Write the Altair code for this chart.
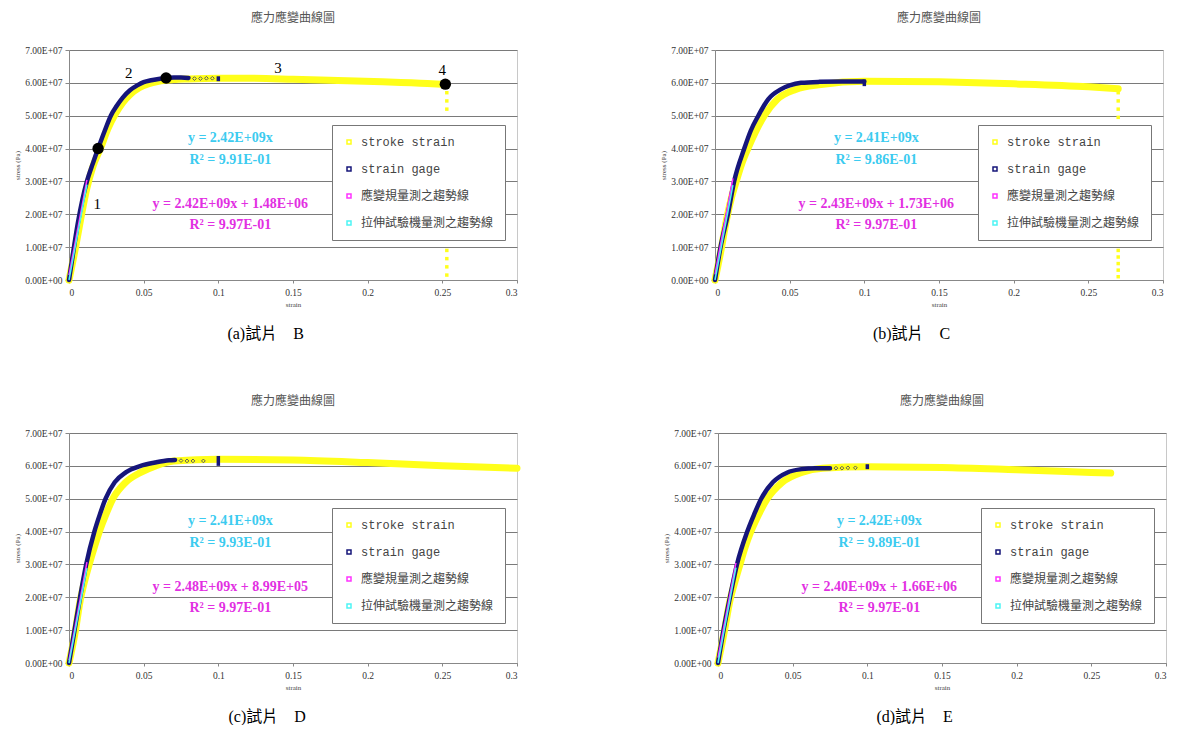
import altair as alt
import pandas as pd

SERIES = ["stroke strain", "strain gage", "應變規量測之趨勢線", "拉伸試驗機量測之趨勢線"]
SERIES_COLORS = ["#FFFF1A", "#16167A", "#FF33FF", "#4DF5F5"]
CHART_TITLE = "應力應變曲線圖"
X_TICKS = [0, 0.05, 0.1, 0.15, 0.2, 0.25, 0.3]
Y_TICKS = [0, 1e7, 2e7, 3e7, 4e7, 5e7, 6e7, 7e7]
CAPTIONS = ["(a)試片　B", "(b)試片　C", "(c)試片　D", "(d)試片　E"]

# ---- specimen B ----
B_STROKE_X = [0, 0.004, 0.008, 0.012, 0.016, 0.021, 0.026, 0.031, 0.036, 0.041, 0.047, 0.053, 0.06, 0.07, 0.08, 0.1, 0.12, 0.15, 0.18, 0.21, 0.24, 0.253]
B_STROKE_Y = [0, 0.9e7, 1.9e7, 2.8e7, 3.45e7, 4.0e7, 4.6e7, 5.05e7, 5.4e7, 5.65e7, 5.85e7, 5.97e7, 6.05e7, 6.1e7, 6.12e7, 6.14e7, 6.14e7, 6.11e7, 6.07e7, 6.03e7, 5.98e7, 5.95e7]
B_DROP_X = [0.253, 0.253, 0.253, 0.253, 0.253, 0.253, 0.253]
B_DROP_Y = [5.7e7, 5.45e7, 5.2e7, 0.9e7, 0.65e7, 0.4e7, 0.15e7]
B_GAGE_X = [0, 0.003, 0.006, 0.009, 0.012, 0.016, 0.0195, 0.024, 0.028, 0.032, 0.036, 0.041, 0.046, 0.05, 0.055, 0.06, 0.065, 0.07, 0.075, 0.08]
B_GAGE_Y = [0, 0.9e7, 1.75e7, 2.45e7, 3.0e7, 3.55e7, 4.0e7, 4.55e7, 5.0e7, 5.3e7, 5.55e7, 5.78e7, 5.93e7, 6.02e7, 6.08e7, 6.12e7, 6.15e7, 6.16e7, 6.16e7, 6.15e7]
B_SPARSE_X = [0.084, 0.088, 0.092, 0.096]
B_SPARSE_Y = [6.13e7, 6.13e7, 6.14e7, 6.14e7]
B_BLIP = [0.1, 6.05e7, 6.2e7]
B_TREND_X = [0, 0.012]
B_TREND_MAG_Y = [1.48e6, 3.05e7]
B_TREND_CYAN_Y = [0, 2.9e7]
B_EQ = ["y = 2.42E+09x", "R² = 9.91E-01", "y = 2.42E+09x + 1.48E+06", "R² = 9.97E-01"]
B_KEY_X = [0.0195, 0.065, 0.252]
B_KEY_Y = [4.0e7, 6.15e7, 5.96e7]
B_NUM_TEXT = ["1", "2", "3", "4"]
B_NUM_X = [0.019, 0.040, 0.140, 0.250]
B_NUM_Y = [2.3e7, 6.3e7, 6.45e7, 6.38e7]

# ---- specimen C ----
C_STROKE_X = [0, 0.004, 0.008, 0.011, 0.0142, 0.018, 0.022, 0.027, 0.033, 0.0417, 0.054, 0.071, 0.1, 0.15, 0.2, 0.25, 0.27]
C_STROKE_Y = [0, 0.9e7, 1.9e7, 2.5e7, 3.0e7, 3.55e7, 4.0e7, 4.5e7, 5.0e7, 5.5e7, 5.8e7, 5.95e7, 6.05e7, 6.03e7, 5.97e7, 5.88e7, 5.82e7]
C_DROP_X = [0.27, 0.27, 0.27, 0.27, 0.27, 0.27, 0.27, 0.27, 0.27]
C_DROP_Y = [5.7e7, 5.45e7, 5.2e7, 4.95e7, 0.9e7, 0.7e7, 0.5e7, 0.3e7, 0.1e7]
C_GAGE_X = [0, 0.0037, 0.0086, 0.0128, 0.0196, 0.024, 0.029, 0.0356, 0.044, 0.05, 0.0576, 0.07, 0.085, 0.1]
C_GAGE_Y = [0, 1e7, 2e7, 3e7, 4e7, 4.55e7, 5e7, 5.5e7, 5.8e7, 5.92e7, 6.0e7, 6.03e7, 6.04e7, 6.04e7]
C_SPARSE_X = []
C_SPARSE_Y = []
C_BLIP = [0.1, 5.9e7, 6.1e7]
C_TREND_X = [0, 0.012]
C_TREND_MAG_Y = [1.73e6, 3.09e7]
C_TREND_CYAN_Y = [0, 2.89e7]
C_EQ = ["y = 2.41E+09x", "R² = 9.86E-01", "y = 2.43E+09x + 1.73E+06", "R² = 9.97E-01"]

# ---- specimen D ----
D_STROKE_X = [0, 0.004, 0.0075, 0.0105, 0.0135, 0.0168, 0.0203, 0.0245, 0.0294, 0.038, 0.048, 0.058, 0.07, 0.1, 0.15, 0.2, 0.25, 0.3]
D_STROKE_Y = [0, 0.9e7, 1.9e7, 2.5e7, 3e7, 3.5e7, 4e7, 4.5e7, 5e7, 5.5e7, 5.8e7, 6.0e7, 6.15e7, 6.2e7, 6.18e7, 6.1e7, 6.0e7, 5.93e7]
D_DROP_X = []
D_DROP_Y = []
D_GAGE_X = [0, 0.0037, 0.0074, 0.0115, 0.017, 0.0205, 0.0245, 0.0306, 0.038, 0.048, 0.0576, 0.067, 0.071]
D_GAGE_Y = [0, 1e7, 2e7, 3e7, 4e7, 4.5e7, 5e7, 5.5e7, 5.8e7, 6.0e7, 6.1e7, 6.17e7, 6.18e7]
D_SPARSE_X = [0.075, 0.079, 0.083, 0.09]
D_SPARSE_Y = [6.16e7, 6.15e7, 6.15e7, 6.15e7]
D_BLIP = [0.1, 6.0e7, 6.3e7]
D_TREND_X = [0, 0.012]
D_TREND_MAG_Y = [0.9e6, 3.07e7]
D_TREND_CYAN_Y = [0, 2.89e7]
D_EQ = ["y = 2.41E+09x", "R² = 9.93E-01", "y = 2.48E+09x + 8.99E+05", "R² = 9.97E-01"]

# ---- specimen E ----
E_STROKE_X = [0, 0.004, 0.008, 0.0115, 0.0147, 0.018, 0.022, 0.027, 0.033, 0.043, 0.056, 0.07, 0.1, 0.15, 0.2, 0.25, 0.263]
E_STROKE_Y = [0, 0.9e7, 1.9e7, 2.5e7, 3e7, 3.5e7, 4e7, 4.5e7, 5e7, 5.5e7, 5.8e7, 5.93e7, 5.97e7, 5.95e7, 5.88e7, 5.8e7, 5.78e7]
E_DROP_X = []
E_DROP_Y = []
E_GAGE_X = [0, 0.0037, 0.008, 0.0127, 0.0196, 0.024, 0.0289, 0.0367, 0.0465, 0.056, 0.065, 0.075]
E_GAGE_Y = [0, 1e7, 2e7, 3e7, 4e7, 4.5e7, 5e7, 5.5e7, 5.8e7, 5.9e7, 5.93e7, 5.93e7]
E_SPARSE_X = [0.079, 0.083, 0.087, 0.092]
E_SPARSE_Y = [5.93e7, 5.93e7, 5.94e7, 5.94e7]
E_BLIP = [0.1, 5.9e7, 6.05e7]
E_TREND_X = [0, 0.012]
E_TREND_MAG_Y = [1.66e6, 3.05e7]
E_TREND_CYAN_Y = [0, 2.9e7]
E_EQ = ["y = 2.42E+09x", "R² = 9.89E-01", "y = 2.40E+09x + 1.66E+06", "R² = 9.97E-01"]

EQ_X = 0.108
EQ_Y = [4.31e7, 3.66e7, 2.31e7, 1.66e7]

W, H = 448, 230
SERIF = "Liberation Serif"
CJK = "Noto Sans CJK TC"

x_axis = alt.Axis(title="strain", values=X_TICKS, format=".2~f", grid=False,
                  labelFont=SERIF, labelFontSize=9.5, labelColor="#333",
                  titleFont=SERIF, titleFontSize=7, titleFontWeight="normal", titleColor="#444",
                  titlePadding=4, domainColor="#888", tickColor="#888", tickSize=3, labelPadding=4)
y_axis = alt.Axis(title="stress (Pa)", values=Y_TICKS,
                  labelExpr="datum.value == 0 ? '0.00E+00' : format(datum.value / 1e7, '.2f') + 'E+07'",
                  grid=True, gridColor="#7a7a7a", gridWidth=1,
                  labelFont=SERIF, labelFontSize=9.5, labelColor="#333",
                  titleFont=SERIF, titleFontSize=7, titleFontWeight="normal", titleColor="#444",
                  titlePadding=4, domainColor="#888", tickColor="#888", tickSize=4, labelPadding=3)
xs = alt.Scale(domain=[0, 0.3], nice=False)
ys = alt.Scale(domain=[0, 7e7], nice=False)

legend = alt.Legend(title=None, orient="none", legendX=263, legendY=75, direction="vertical",
                    fillColor="white", strokeColor="#777", padding=11, rowPadding=15,
                    symbolType="square", symbolSize=16, symbolStrokeWidth=1.5,
                    labelFont=f"Liberation Mono, {CJK}", labelFontSize=12, labelColor="#444",
                    labelOffset=6, labelLimit=400)
color_enc = alt.Color("series:N", scale=alt.Scale(domain=SERIES, range=SERIES_COLORS), legend=legend)


def panel(sx, sy, dx, dy, gx, gy, spx, spy, blip, tx, tmag, tcyan, eq, caption,
          kx=None, ky=None, nt=None, nx=None, ny=None):
    stroke = pd.DataFrame({"strain": sx, "stress": sy, "series": SERIES[0]})
    gage = pd.DataFrame({"strain": gx, "stress": gy, "series": SERIES[1]})
    trend = pd.concat([
        pd.DataFrame({"strain": tx, "stress": tmag, "series": SERIES[2]}),
        pd.DataFrame({"strain": tx, "stress": tcyan, "series": SERIES[3]}),
    ])
    enc = dict(x=alt.X("strain:Q", scale=xs, axis=x_axis), y=alt.Y("stress:Q", scale=ys, axis=y_axis))
    layers = [
        alt.Chart(stroke).mark_line(strokeWidth=7, strokeCap="round", strokeJoin="round",
                                    interpolate="monotone").encode(color=color_enc, **enc),
    ]
    if dx:
        drop = pd.DataFrame({"strain": dx, "stress": dy})
        layers.append(alt.Chart(drop).mark_square(size=12, color=SERIES_COLORS[0], opacity=1).encode(**enc))
    layers.append(alt.Chart(gage).mark_line(strokeWidth=4.5, strokeCap="round", strokeJoin="round",
                                            interpolate="monotone").encode(color=color_enc, **enc))
    if spx:
        sp = pd.DataFrame({"strain": spx, "stress": spy})
        layers.append(alt.Chart(sp).mark_point(shape="diamond", size=14, color=SERIES_COLORS[1], strokeWidth=1).encode(**enc))
    bl = pd.DataFrame({"strain": [blip[0]], "stress": [blip[1]], "stress2": [blip[2]]})
    layers.append(alt.Chart(bl).mark_rule(color=SERIES_COLORS[1], strokeWidth=3.5).encode(
        x=alt.X("strain:Q", scale=xs, axis=x_axis), y=alt.Y("stress:Q", scale=ys, axis=y_axis), y2="stress2:Q"))
    layers.append(alt.Chart(trend).mark_line(strokeWidth=1.5).encode(color=color_enc, **enc))
    if kx:
        kd = pd.DataFrame({"strain": kx, "stress": ky})
        layers.append(alt.Chart(kd).mark_circle(size=130, color="black", opacity=1).encode(**enc))
        nd = pd.DataFrame({"strain": nx, "stress": ny, "label": nt})
        layers.append(alt.Chart(nd).mark_text(font=SERIF, fontSize=15, color="black").encode(text="label:N", **enc))
    ed = pd.DataFrame({"strain": [EQ_X] * 4, "stress": EQ_Y, "label": eq,
                       "kind": ["c", "c", "m", "m"]})
    layers.append(alt.Chart(ed).transform_filter("datum.kind == 'c'").mark_text(
        font=SERIF, fontSize=14, fontWeight="bold", color="#3CCBF0").encode(text="label:N", **enc))
    layers.append(alt.Chart(ed).transform_filter("datum.kind == 'm'").mark_text(
        font=SERIF, fontSize=14, fontWeight="bold", color="#E22FE2").encode(text="label:N", **enc))

    inner = alt.layer(*layers).properties(
        width=W, height=H,
        title=alt.TitleParams(CHART_TITLE, font=CJK, fontSize=12, fontWeight="normal", color="#555",
                              anchor="middle", offset=20),
    )
    return alt.vconcat(inner, title=alt.TitleParams(caption, orient="bottom", font=f"{SERIF}, {CJK}",
                                                     fontSize=16, fontWeight="normal", color="black",
                                                     anchor="middle", offset=18)
                       ).resolve_scale(color="independent")


pa = panel(B_STROKE_X, B_STROKE_Y, B_DROP_X, B_DROP_Y, B_GAGE_X, B_GAGE_Y, B_SPARSE_X, B_SPARSE_Y, B_BLIP,
           B_TREND_X, B_TREND_MAG_Y, B_TREND_CYAN_Y, B_EQ, CAPTIONS[0],
           B_KEY_X, B_KEY_Y, B_NUM_TEXT, B_NUM_X, B_NUM_Y)
pb = panel(C_STROKE_X, C_STROKE_Y, C_DROP_X, C_DROP_Y, C_GAGE_X, C_GAGE_Y, C_SPARSE_X, C_SPARSE_Y, C_BLIP,
           C_TREND_X, C_TREND_MAG_Y, C_TREND_CYAN_Y, C_EQ, CAPTIONS[1])
pc = panel(D_STROKE_X, D_STROKE_Y, D_DROP_X, D_DROP_Y, D_GAGE_X, D_GAGE_Y, D_SPARSE_X, D_SPARSE_Y, D_BLIP,
           D_TREND_X, D_TREND_MAG_Y, D_TREND_CYAN_Y, D_EQ, CAPTIONS[2])
pd_ = panel(E_STROKE_X, E_STROKE_Y, E_DROP_X, E_DROP_Y, E_GAGE_X, E_GAGE_Y, E_SPARSE_X, E_SPARSE_Y, E_BLIP,
            E_TREND_X, E_TREND_MAG_Y, E_TREND_CYAN_Y, E_EQ, CAPTIONS[3])

row1 = alt.hconcat(pa, pb, spacing=141).resolve_scale(color="independent")
row2 = alt.hconcat(pc, pd_, spacing=141).resolve_scale(color="independent")
chart = alt.vconcat(row1, row2, spacing=52).resolve_scale(color="independent").properties(
    padding={"left": 5, "top": 3, "right": 0, "bottom": 0}, background="white"
).configure_view(stroke="#c8c8c8")

chart.save("out.html", embed_options={"renderer": "svg", "actions": False})
